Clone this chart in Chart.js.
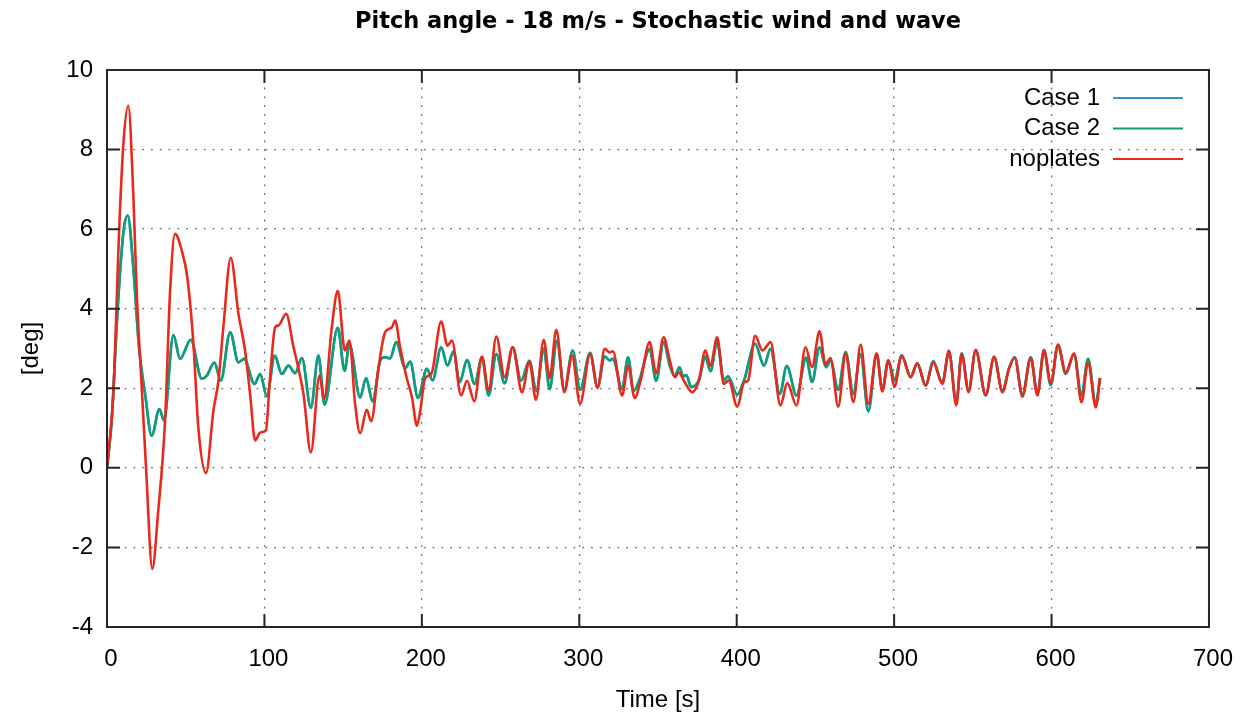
<!DOCTYPE html>
<html>
<head>
<meta charset="utf-8">
<script src="https://cdn.jsdelivr.net/npm/chart.js@4/dist/chart.umd.min.js"></script>
<style>
  html, body { margin: 0; padding: 0; background: #fff; }
  canvas { display: block; }
</style>
</head>
<body>
<canvas id="chart-pitch" width="1247" height="721"></canvas>
<script>
// Pitch angle (time [s], angle [deg])
let noplatesT = [0, 4.0, 7.8, 10.4, 13.5, 16.7, 18.9, 22.1, 24.8, 28.8, 32.5, 36.9, 40.0, 43.2, 47.5, 51.0, 54.9, 58.0, 62.9,
  67.6, 70.8, 73.9, 78.6, 83.5, 87.7, 90.9, 94.1, 97.3, 100.9, 103.6, 106.8, 108.9, 113.8, 118.5, 121.6, 124.8, 129.5,
  135.0, 137.9, 142.8, 146.6, 151.1, 154.0, 157.6, 160.8, 165.0, 167.8, 172.5, 176.7, 180.9, 183.0, 186.2, 190.5, 193.7,
  196.9, 199.0, 202.0, 206.0, 212.3, 216.3, 219.1, 224.9, 228.7, 233.3, 238.2, 242.4, 247.3, 252.6, 257.7, 263.6, 268.3,
  272.5, 277.4, 281.2, 285.4, 290.5, 295.4, 300.5, 306.9, 311.6, 316.2, 319.3, 321.4, 327.2, 331.0, 335.2, 339.0, 344.7,
  348.8, 353.6, 357.5, 360.7, 363.2, 367.0, 371.7, 376.0, 380.1, 383.3, 387.6, 391.8, 395.0, 400.3, 404.7, 407.3, 411.7,
  416.4, 421.5, 427.8, 432.1, 438.0, 443.7, 447.9, 452.6, 456.4, 459.6, 464.5, 469.2, 474.1, 478.7, 483.6, 488.9, 492.5,
  496.3, 500.3, 504.8, 510.5, 514.7, 520.0, 524.9, 530.6, 534.8, 539.5, 542.9, 547.3, 551.8, 558.2, 563.5, 568.8, 573.0,
  576.6, 581.5, 586.8, 591.0, 595.2, 599.5, 604.1, 609.0, 614.3, 619.0, 623.2, 628.1, 630.8];
let noplatesV = [0, 1.86, 6.05, 8.14, 9.10, 6.88, 4.37, 2.0, 0, -2.54, -1.1, 1.19, 4.37, 5.88, 5.46, 4.79, 3.12, 1.02, -0.13,
  1.44, 2.19, 3.53, 5.28, 3.87, 2.95, 1.86, 0.69, 0.89, 0.94, 2.28, 3.53, 3.58, 3.87, 3.03, 2.5, 1.86, 0.39,
  2.32, 1.73, 3.53, 4.45, 2.95, 3.2, 1.61, 0.87, 1.46, 1.17, 2.53, 3.41, 3.53, 3.70, 3.03, 2.24, 1.78,
  1.06, 1.44, 2.25, 2.36, 3.68, 3.07, 3.2, 1.82, 2.19, 1.67, 2.8, 1.94, 3.3, 2.28, 3.03, 1.9, 2.67,
  1.71, 3.22, 2.26, 3.47, 1.9, 2.82, 1.61, 2.86, 2.01, 2.99, 2.9, 2.93, 1.82, 2.57, 1.76, 2.2, 3.16,
  2.38, 3.28, 2.7, 2.28, 2.4, 2.15, 1.9, 2.2, 2.95, 2.57, 3.28, 2.11, 2.2, 1.54, 2.15, 2.2, 3.32,
  2.95, 3.16, 1.57, 2.13, 1.57, 3.03, 2.53, 3.43, 2.6, 2.76, 1.54, 2.86, 1.65, 3.1, 1.61, 2.88, 1.92,
  2.7, 2.04, 2.82, 2.28, 2.63, 2.07, 2.65, 2.11, 2.95, 1.57, 2.86, 1.9, 2.97, 1.84, 2.8, 1.9, 2.5,
  2.76, 1.79, 2.76, 1.82, 2.97, 2.13, 3.1, 2.4, 2.88, 1.65, 2.65, 1.52, 2.26];

let case2T = [0, 3.0, 6.2, 9.0, 11.0, 13.2, 16.7, 20.5, 24.2, 28.4, 33.3, 36.2, 42.2, 46.4, 53.2, 60.2, 63.4, 68.2, 72.3,
  78.2, 83.5, 87.1, 93.7, 97.3, 101.5, 106.6, 111.0, 115.3, 119.5, 123.8, 129.5, 134.3, 138.2, 146.6, 150.9, 154.0,
  160.8, 164.6, 168.7, 173.6, 176.3, 179.9, 183.7, 189.4, 192.6, 197.5, 203.2, 206.8, 212.3, 216.3, 220.2, 224.0, 228.7,
  233.5, 238.2, 242.4, 247.3, 252.6, 257.7, 263.0, 268.3, 272.7, 277.4, 281.2, 285.8, 290.5, 295.8, 300.5, 306.9, 311.6,
  316.2, 319.3, 321.4, 327.2, 331.0, 334.5, 338.2, 344.7, 348.8, 353.6, 357.5, 360.7, 363.6, 366.0, 368.0, 371.1, 376.0,
  380.1, 383.3, 387.6, 391.8, 394.5, 400.3, 404.7, 411.7, 417.3, 421.5, 427.4, 431.8, 438.0, 444.1, 447.9, 452.6, 456.8,
  459.6, 464.5, 469.2, 474.1, 478.7, 483.6, 488.9, 492.5, 496.3, 500.3, 504.8, 510.5, 514.7, 520.0, 524.9, 530.6, 534.8,
  539.5, 542.9, 547.3, 551.8, 558.2, 563.5, 568.8, 573.0, 576.6, 581.5, 586.8, 591.0, 595.2, 599.5, 604.1, 609.0, 614.3,
  619.0, 623.2, 628.1, 630.8];
let case2V = [0, 1.2, 3.6, 5.3, 6.1, 6.34, 5.04, 2.95, 1.86, 0.81, 1.48, 1.19, 3.34, 2.74, 3.22, 2.24, 2.32, 2.65, 2.19,
  3.41, 2.65, 2.74, 2.11, 2.36, 1.80, 2.82, 2.36, 2.57, 2.38, 2.76, 1.51, 2.82, 1.59, 3.52, 2.44, 3.1,
  1.77, 2.26, 1.67, 2.7, 2.78, 2.75, 3.16, 2.51, 2.67, 1.76, 2.49, 2.2, 3.03, 2.57, 2.93, 2.15, 2.71,
  2.11, 2.77, 1.82, 2.86, 2.13, 3.03, 2.19, 2.69, 1.94, 2.99, 1.98, 3.2, 1.96, 2.95, 1.96, 2.89, 2.03,
  2.8, 2.7, 2.74, 1.98, 2.78, 1.93, 2.21, 2.99, 2.19, 3.16, 2.57, 2.3, 2.53, 2.3, 2.33, 2.03, 2.2,
  2.8, 2.43, 3.16, 2.2, 2.3, 1.84, 2.2, 3.12, 2.57, 2.99, 1.86, 2.56, 1.82, 2.77, 2.16, 3.03, 2.53,
  2.7, 1.96, 2.91, 1.86, 2.86, 1.42, 2.86, 1.96, 2.7, 2.2, 2.82, 2.28, 2.63, 2.07, 2.68, 2.13, 2.91,
  1.65, 2.88, 1.94, 2.95, 1.82, 2.78, 1.94, 2.5, 2.78, 1.84, 2.78, 1.86, 2.95, 2.08, 3.08, 2.36, 2.86,
  1.82, 2.74, 1.61, 2.26];

// Case 1 lies completely under Case 2 in the picture
let case1T = case2T;
let case1V = case2V;

let xTicks = [0, 100, 200, 300, 400, 500, 600, 700];
let yTicks = [-4, -2, 0, 2, 4, 6, 8, 10];

let labels = ['Case 1', 'Case 2', 'noplates'];
let colors = ['#3b8fcf', '#0e9e78', '#e8291c'];
let title = 'Pitch angle - 18 m/s - Stochastic wind and wave';

const FONT = '"Liberation Sans", Arial, sans-serif';

function points(ts, vs) {
    return ts.map((t, i) => ({ x: t, y: vs[i] }));
}

// gnuplot style box: title over the plot, full frame, inward ticks, key at the top right
const gnuplotFrame = {
    id: 'gnuplotFrame',
    afterDraw(chart) {
        const { ctx, chartArea: a, scales: { x, y } } = chart;
        ctx.save();
        ctx.fillStyle = '#000';
        ctx.font = 'bold 22.5px "DejaVu Sans", sans-serif';
        ctx.textAlign = 'center';
        ctx.textBaseline = 'middle';
        ctx.fillText(title, (a.left + a.right) / 2, 22);

        ctx.strokeStyle = '#262626';
        ctx.lineWidth = 2;
        ctx.setLineDash([]);
        ctx.strokeRect(a.left, a.top, a.right - a.left, a.bottom - a.top);
        ctx.beginPath();
        xTicks.forEach(v => {
            const px = x.getPixelForValue(v);
            ctx.moveTo(px, a.bottom); ctx.lineTo(px, a.bottom - 13);
            ctx.moveTo(px, a.top); ctx.lineTo(px, a.top + 13);
        });
        yTicks.forEach(v => {
            const py = y.getPixelForValue(v);
            ctx.moveTo(a.left, py); ctx.lineTo(a.left + 13, py);
            ctx.moveTo(a.right, py); ctx.lineTo(a.right - 13, py);
        });
        ctx.stroke();

        // key
        ctx.font = '24px ' + FONT;
        ctx.textAlign = 'right';
        chart.data.datasets.forEach((ds, i) => {
            const rowY = a.top + 28 + i * 30.5;
            ctx.fillStyle = '#000';
            ctx.fillText(ds.label, a.right - 109, rowY);
            ctx.strokeStyle = ds.borderColor;
            ctx.lineWidth = 2;
            ctx.beginPath();
            ctx.moveTo(a.right - 96, rowY);
            ctx.lineTo(a.right - 26, rowY);
            ctx.stroke();
        });
        ctx.restore();
    }
};

let chartPitch = document.getElementById('chart-pitch').getContext('2d');

let chart1 = new Chart(chartPitch, {
    type: 'line',
    data: {
        datasets: [
            { label: labels[0], data: points(case1T, case1V), borderColor: colors[0], order: 3 },
            { label: labels[1], data: points(case2T, case2V), borderColor: colors[1], order: 2 },
            { label: labels[2], data: points(noplatesT, noplatesV), borderColor: colors[2], order: 1 }
        ]
    },
    options: {
        responsive: false,
        animation: false,
        layout: { padding: { left: 0, right: 38, top: 70, bottom: 0 } },
        elements: {
            point: { radius: 0 },
            line: { borderWidth: 2.6, cubicInterpolationMode: 'monotone', fill: false }
        },
        plugins: {
            legend: { display: false },
            tooltip: { enabled: false },
            title: { display: false }
        },
        scales: {
            x: {
                type: 'linear',
                min: 0,
                max: 700,
                afterFit: s => { s.height = 94; },
                afterBuildTicks: s => { s.ticks = xTicks.map(v => ({ value: v })); },
                ticks: { color: '#000', font: { family: FONT, size: 24 }, padding: 18, labelOffset: 4, maxRotation: 0 },
                grid: { color: '#6a6a6a', lineWidth: 1.3, drawTicks: false },
                border: { display: false, dash: [1.8, 7] },
                title: {
                    display: true, text: 'Time [s]', color: '#000',
                    font: { family: FONT, size: 24 }, padding: { top: 0, bottom: 6 }
                }
            },
            y: {
                min: -4,
                max: 10,
                afterFit: s => { s.width = 107; },
                afterBuildTicks: s => { s.ticks = yTicks.map(v => ({ value: v })); },
                ticks: { color: '#000', font: { family: FONT, size: 24 }, padding: 14 },
                grid: { color: '#6a6a6a', lineWidth: 1.3, drawTicks: false },
                border: { display: false, dash: [1.8, 7] },
                title: {
                    display: true, text: '[deg]', color: '#000',
                    font: { family: FONT, size: 24 }, padding: { top: 17, bottom: 0 }
                }
            }
        }
    },
    plugins: [gnuplotFrame]
});
</script>
</body>
</html>
